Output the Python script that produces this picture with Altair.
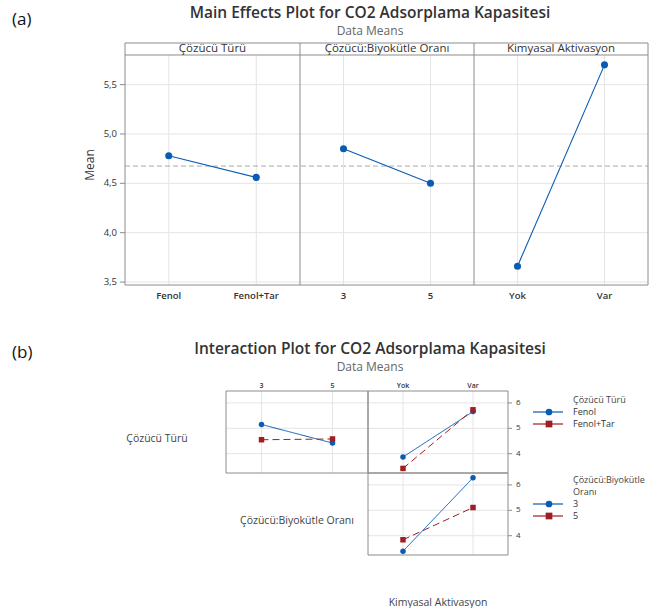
import altair as alt
import pandas as pd

# ---------------- data ----------------
main_factors = ["Çözücü Türü", "Çözücü:Biyokütle Oranı", "Kimyasal Aktivasyon"]
main_levels = [["Fenol", "Fenol+Tar"], ["3", "5"], ["Yok", "Var"]]
main_means = [[4.78, 4.56], [4.85, 4.50], [3.66, 5.70]]
grand_mean = 4.675
main_ticks = [3.5, 4.0, 4.5, 5.0, 5.5]
main_tick_labels = ["3,5", "4,0", "4,5", "5,0", "5,5"]

solvent_levels = ["Fenol", "Fenol+Tar"]
ratio_levels = ["3", "5"]
activation_levels = ["Yok", "Var"]
solvent_by_ratio_fenol = [5.15, 4.42]
solvent_by_ratio_fenoltar = [4.55, 4.58]
solvent_by_act_fenol = [3.87, 5.66]
solvent_by_act_fenoltar = [3.42, 5.73]
ratio_by_act_3 = [3.39, 6.28]
ratio_by_act_5 = [3.84, 5.11]
int_ticks = [4, 5, 6]
int_tick_labels = ["4", "5", "6"]

# ---------------- style / layout ----------------
BLUE = "#0a5bb4"
RED = "#a11d21"
GRID = "#e4e4e4"
FRAME = "#8c8c8c"
FONT = "Open Sans"
TXT = "#333333"

A_EDGES = [125, 300, 474, 648]
A_TOP, A_HEAD, A_BOTTOM = 43, 55, 285
A_YDOM = [3.47, 5.80]
B_COLS = [226, 368, 508]
B_ROWS = [391, 473, 555]
B_YDOM = [3.24, 6.47]


def one():
    return alt.Data(values=[{"k": 0}])


def label(text, x, y, size=10, color=TXT, weight="normal", align="center", angle=None):
    kw = dict(text=text, fontSize=size, color=color, fontWeight=weight,
              align=align, baseline="middle", font=FONT)
    if angle is not None:
        kw["angle"] = angle
    return alt.Chart(one()).mark_text(**kw).encode(x=alt.value(x), y=alt.value(y))


def hline(x0, x1, y, color=FRAME):
    return alt.Chart(one()).mark_rule(color=color, strokeWidth=1).encode(
        x=alt.value(x0), x2=alt.value(x1), y=alt.value(y))


def vline(x, y0, y1, color=FRAME):
    return alt.Chart(one()).mark_rule(color=color, strokeWidth=1).encode(
        x=alt.value(x), y=alt.value(y0), y2=alt.value(y1))


def frame(x0, x1, y0, y1):
    return alt.Chart(one()).mark_rect(fillOpacity=0, stroke=FRAME, strokeWidth=1).encode(
        x=alt.value(x0), x2=alt.value(x1), y=alt.value(y0), y2=alt.value(y1))


def main_panel(i):
    x0, x1 = A_EDGES[i], A_EDGES[i + 1]
    xs = alt.Scale(type="point", domain=main_levels[i], range=[x0, x1], padding=0.5)
    ys = alt.Scale(domain=A_YDOM, range=[A_BOTTOM, A_HEAD], nice=False, zero=False)
    df = pd.DataFrame({"level": main_levels[i], "mean": main_means[i]})
    tk = pd.DataFrame({"tick": main_ticks, "lab": main_tick_labels})
    X = alt.X("level:N", scale=xs, axis=None)
    Yt = alt.Y("tick:Q", scale=ys, axis=None)
    Ym = alt.Y("mean:Q", scale=ys, axis=None)
    layers = [
        alt.Chart(df).mark_rule(color=GRID).encode(x=X, y=alt.value(A_HEAD), y2=alt.value(A_BOTTOM)),
        alt.Chart(tk).mark_rule(color=GRID).encode(y=Yt, x=alt.value(x0), x2=alt.value(x1)),
    ]
    if i == 0:
        layers += [
            alt.Chart(tk).mark_rule(color=FRAME).encode(y=Yt, x=alt.value(120), x2=alt.value(x0)),
            alt.Chart(tk).mark_text(align="right", baseline="middle", fontSize=9.5, font=FONT,
                                    color=TXT).encode(y=Yt, x=alt.value(117), text="lab:N"),
            alt.Chart(pd.DataFrame({"m": [grand_mean]})).mark_rule(
                color="#aaaaaa", strokeDash=[5, 3], strokeWidth=1).encode(
                y=alt.Y("m:Q", scale=ys, axis=None), x=alt.value(A_EDGES[0]), x2=alt.value(A_EDGES[-1])),
        ]
    layers += [
        alt.Chart(df).mark_line(color=BLUE, strokeWidth=1.1).encode(x=X, y=Ym),
        alt.Chart(df).mark_point(filled=True, shape="circle", size=50, color=BLUE, opacity=1).encode(x=X, y=Ym),
        alt.Chart(df).mark_text(baseline="middle", fontSize=9.5, fontWeight=600, font=FONT,
                                color=TXT).encode(x=X, y=alt.value(296), text="level:N"),
    ]
    return alt.layer(*layers)


def int_panel(levels, traces, values, x0, x1, y0, y1, top_labels, right_axis):
    xs = alt.Scale(type="point", domain=levels, range=[x0, x1], padding=0.5)
    ys = alt.Scale(domain=B_YDOM, range=[y1, y0], nice=False, zero=False)
    rows = [{"trace": t, "level": l, "mean": v}
            for t, vals in zip(traces, values) for l, v in zip(levels, vals)]
    df = pd.DataFrame(rows)
    lv = pd.DataFrame({"level": levels})
    tk = pd.DataFrame({"tick": int_ticks, "lab": int_tick_labels})
    X = alt.X("level:N", scale=xs, axis=None)
    Yt = alt.Y("tick:Q", scale=ys, axis=None)
    Ym = alt.Y("mean:Q", scale=ys, axis=None)
    C = alt.Color("trace:N", scale=alt.Scale(domain=traces, range=[BLUE, RED]), legend=None)
    D = alt.StrokeDash("trace:N", scale=alt.Scale(domain=traces, range=[[1, 0], [7, 4]]), legend=None)
    S = alt.Shape("trace:N", scale=alt.Scale(domain=traces, range=["circle", "square"]), legend=None)
    layers = [
        alt.Chart(lv).mark_rule(color=GRID).encode(x=X, y=alt.value(y0), y2=alt.value(y1)),
        alt.Chart(tk).mark_rule(color=GRID).encode(y=Yt, x=alt.value(x0), x2=alt.value(x1)),
    ]
    if top_labels:
        layers.append(alt.Chart(lv).mark_text(baseline="middle", fontSize=7, fontWeight=600, font=FONT,
                                              color=TXT).encode(x=X, y=alt.value(386), text="level:N"))
    if right_axis:
        layers += [
            alt.Chart(tk).mark_rule(color=FRAME).encode(y=Yt, x=alt.value(x1), x2=alt.value(x1 + 4)),
            alt.Chart(tk).mark_text(align="left", baseline="middle", fontSize=8, font=FONT,
                                    color=TXT).encode(y=Yt, x=alt.value(x1 + 8), text="lab:N"),
        ]
    layers += [
        alt.Chart(df).mark_line(strokeWidth=1).encode(x=X, y=Ym, color=C, strokeDash=D),
        alt.Chart(df).mark_point(filled=True, size=30, opacity=1).encode(x=X, y=Ym, color=C, shape=S),
    ]
    return alt.layer(*layers)


def legend(entries, y_positions):
    df = pd.DataFrame({"entry": entries})
    ys = alt.Scale(type="point", domain=entries, range=y_positions, padding=0)
    Y = alt.Y("entry:N", scale=ys, axis=None)
    C = alt.Color("entry:N", scale=alt.Scale(domain=entries, range=[BLUE, RED]), legend=None)
    S = alt.Shape("entry:N", scale=alt.Scale(domain=entries, range=["circle", "square"]), legend=None)
    return alt.layer(
        alt.Chart(df).mark_rule(strokeWidth=1.2).encode(y=Y, x=alt.value(533), x2=alt.value(563), color=C),
        alt.Chart(df).mark_point(filled=True, size=45, opacity=1).encode(y=Y, x=alt.value(549), color=C, shape=S),
        alt.Chart(df).mark_text(align="left", baseline="middle", fontSize=9, font=FONT,
                                color=TXT).encode(y=Y, x=alt.value(573), text="entry:N"),
    )


layers = []

# ---- (a) Main effects ----
layers += [
    label("(a)", 12, 20, size=17, color="#111111", align="left"),
    label("Main Effects Plot for CO2 Adsorplama Kapasitesi", 370, 13, size=15.5, weight=600),
    label("Data Means", 370, 31, size=12, color="#666666"),
    label("Mean", 90, 165, size=12, angle=270),
]
for i in range(3):
    layers.append(main_panel(i))
layers += [frame(A_EDGES[0], A_EDGES[-1], A_TOP, A_BOTTOM),
           hline(A_EDGES[0], A_EDGES[-1], A_HEAD),
           vline(A_EDGES[1], A_TOP, A_BOTTOM),
           vline(A_EDGES[2], A_TOP, A_BOTTOM)]
for i in range(3):
    layers.append(label(main_factors[i], (A_EDGES[i] + A_EDGES[i + 1]) / 2, 49, size=11.5))

# ---- (b) Interaction ----
layers += [
    label("(b)", 12, 353, size=17, color="#111111", align="left"),
    label("Interaction Plot for CO2 Adsorplama Kapasitesi", 370, 349, size=15.5, weight=600),
    label("Data Means", 370, 367, size=12, color="#666666"),
    int_panel(ratio_levels, solvent_levels, [solvent_by_ratio_fenol, solvent_by_ratio_fenoltar],
              B_COLS[0], B_COLS[1], B_ROWS[0], B_ROWS[1], True, False),
    int_panel(activation_levels, solvent_levels, [solvent_by_act_fenol, solvent_by_act_fenoltar],
              B_COLS[1], B_COLS[2], B_ROWS[0], B_ROWS[1], True, True),
    int_panel(activation_levels, ratio_levels, [ratio_by_act_3, ratio_by_act_5],
              B_COLS[1], B_COLS[2], B_ROWS[1], B_ROWS[2], False, True),
    frame(B_COLS[0], B_COLS[1], B_ROWS[0], B_ROWS[1]),
    frame(B_COLS[1], B_COLS[2], B_ROWS[0], B_ROWS[1]),
    frame(B_COLS[1], B_COLS[2], B_ROWS[1], B_ROWS[2]),
    label("Çözücü Türü", 157, 439, size=10.5, color="#444444"),
    label("Çözücü:Biyokütle Oranı", 297, 521, size=10.5, color="#444444"),
    label("Kimyasal Aktivasyon", 438, 603, size=10.5, color="#444444"),
    label("Çözücü Türü", 573, 400, size=9, color="#444444", align="left"),
    legend(solvent_levels, [412, 424]),
    label("Çözücü:Biyokütle", 573, 480, size=9, color="#444444", align="left"),
    label("Oranı", 573, 492, size=9, color="#444444", align="left"),
    legend(ratio_levels, [504, 516]),
]

chart = alt.layer(*layers).resolve_scale(
    x="independent", y="independent", color="independent",
    shape="independent", strokeDash="independent"
).properties(
    width=654, height=608, padding=0,
    autosize=alt.AutoSizeParams(type="none"),
    background="white",
).configure_view(strokeWidth=0)

chart.save("out.html", embed_options={"renderer": "svg", "actions": False})
